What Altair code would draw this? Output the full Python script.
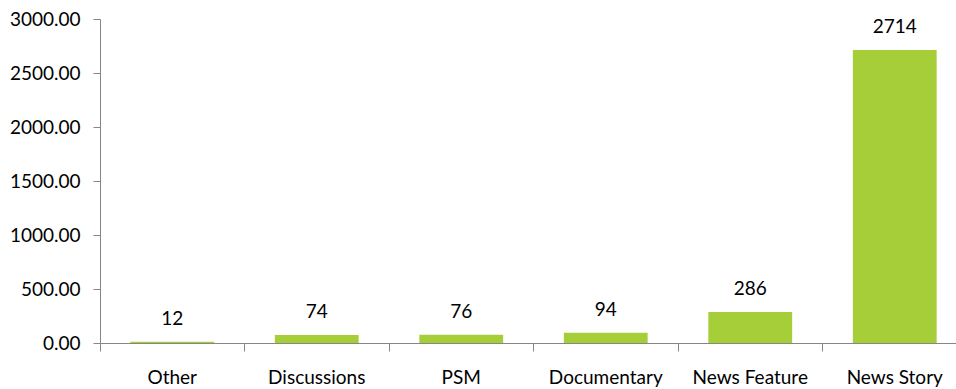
import altair as alt
import pandas as pd

categories = ["Other", "Discussions", "PSM", "Documentary", "News Feature", "News Story"]
values = [12, 74, 76, 94, 286, 2714]
y_ticks = [0, 500, 1000, 1500, 2000, 2500, 3000]

df = pd.DataFrame({"category": categories, "value": values})

FONT = "Lato"
GRAY = "#868686"
GREEN = "#A6CE39"

x_enc = alt.X(
    "category:N",
    sort=categories,
    scale=alt.Scale(range=[0, 867], paddingInner=0, paddingOuter=0),
    axis=alt.Axis(
        title=None,
        labelAngle=0,
        bandPosition=0,
        domainColor=GRAY,
        tickColor=GRAY,
        tickSize=8,
        labelPadding=17,
        labelFont=FONT,
        labelFontSize=19,
        labelColor="#000000",
        grid=False,
    ),
)
y_enc = alt.Y(
    "value:Q",
    scale=alt.Scale(domain=[0, 3000], nice=False),
    axis=alt.Axis(
        title=None,
        values=y_ticks,
        format=".2f",
        domainColor=GRAY,
        tickColor=GRAY,
        tickSize=7,
        labelPadding=13,
        labelFont=FONT,
        labelFontSize=19,
        labelColor="#000000",
        grid=False,
    ),
)

bars = alt.Chart(df).mark_bar(color=GREEN, width=alt.RelativeBandSize(0.58)).encode(x=x_enc, y=y_enc)
labels = alt.Chart(df).mark_text(
    baseline="bottom", dy=-13, font=FONT, fontSize=19, color="#000000"
).encode(x=alt.X("category:N", sort=categories), y="value:Q", text=alt.Text("value:Q", format="d"))

chart = (
    alt.layer(bars, labels)
    .properties(
        width=856,
        height=324,
        autosize=alt.AutoSizeParams(type="none"),
        padding={"left": 100, "top": 19, "right": 0, "bottom": 46},
        background="white",
    )
    .configure_view(stroke=None)
)

chart.save("out.html", embed_options={"renderer": "svg", "actions": False})
